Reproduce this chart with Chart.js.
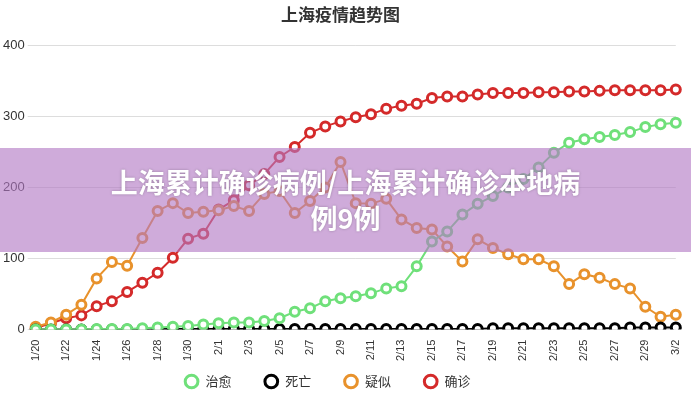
<!DOCTYPE html>
<html><head><meta charset="utf-8">
<script src="https://cdn.jsdelivr.net/npm/chart.js@4"></script>
<style>
html,body{margin:0;padding:0;background:#fff;}
#wrap{position:relative;width:691px;height:400px;}
#banner{position:absolute;left:0;top:148px;width:691px;height:104px;background:rgba(178,120,196,0.62);display:flex;align-items:center;justify-content:center;text-align:center;color:#fff;font:bold 27px "Noto Sans CJK SC",sans-serif;line-height:36px;text-shadow:0 0 3px rgba(0,0,0,0.25);}
</style></head><body>
<div id="wrap"><canvas id="c" width="691" height="400"></canvas>
<div id="banner">上海累计确诊病例/上海累计确诊本地病<br>例9例</div></div>
<script>
const dates=["1/20","1/21","1/22","1/23","1/24","1/25","1/26","1/27","1/28","1/29","1/30","1/31","2/1","2/2","2/3","2/4","2/5","2/6","2/7","2/8","2/9","2/10","2/11","2/12","2/13","2/14","2/15","2/16","2/17","2/18","2/19","2/20","2/21","2/22","2/23","2/24","2/25","2/26","2/27","2/28","2/29","3/1","3/2"];
const recovered=[0,0,0,0,1,1,1,2,3,4,5,7,9,10,10,12,16,25,30,40,44,47,51,58,61,89,124,138,162,177,188,200,212,228,249,263,268,271,274,278,285,289,291];
const deaths=[0,0,0,0,0,0,0,0,1,1,1,1,1,1,1,1,1,1,1,1,1,1,1,1,1,1,1,1,1,1,2,2,2,2,2,2,2,2,2,3,3,3,3];
const suspected=[4,10,21,35,72,95,90,129,167,178,164,166,168,174,167,191,195,164,181,200,236,178,177,184,155,143,141,117,96,127,115,106,99,99,89,64,78,73,64,58,32,18,21];
const confirmed=[2,9,16,20,33,40,53,66,80,101,128,135,169,182,203,219,243,257,277,286,293,299,303,311,315,318,326,328,328,331,333,333,333,334,334,335,335,336,337,337,337,337,338];
const names=["治愈","死亡","疑似","确诊"];
const colors=["#6fe07a","#000000","#e8922c","#d42a2a"];
const series=[recovered,deaths,suspected,confirmed];
new Chart(document.getElementById('c'),{type:'line',
data:{labels:dates,datasets:series.map((d,i)=>({label:names[i],data:d,borderColor:colors[i],backgroundColor:'#fff',borderWidth:2,pointRadius:4.5,pointBorderWidth:3,pointBackgroundColor:'#fff',tension:0}))},
options:{responsive:false,animation:false,
layout:{padding:{left:0,right:10,top:0,bottom:2}},
plugins:{title:{display:true,text:'上海疫情趋势图',color:'#333',font:{size:17,weight:'bold',family:'"Noto Sans CJK SC"'},padding:{top:4,bottom:21}},
legend:{position:'bottom',labels:{usePointStyle:true,pointStyle:'circle',boxWidth:9,boxHeight:9,padding:12,color:'#333',font:{size:13,family:'"Noto Sans CJK SC"'},generateLabels:function(ch){const l=Chart.defaults.plugins.legend.labels.generateLabels(ch);l.forEach(x=>{x.text=' '+x.text+'        ';x.lineWidth=3;});return l;}}}},
scales:{x:{offset:false,grid:{display:false},border:{display:false},ticks:{autoSkip:false,maxRotation:90,minRotation:90,padding:2,color:'#333',font:{size:11},callback:function(v,i){return i%2===0?dates[i]:'';}}},
y:{min:0,max:400,ticks:{stepSize:100,color:'#333',font:{size:13},padding:3},border:{display:false},grid:{color:'#ddd'}}}}});
</script></body></html>
